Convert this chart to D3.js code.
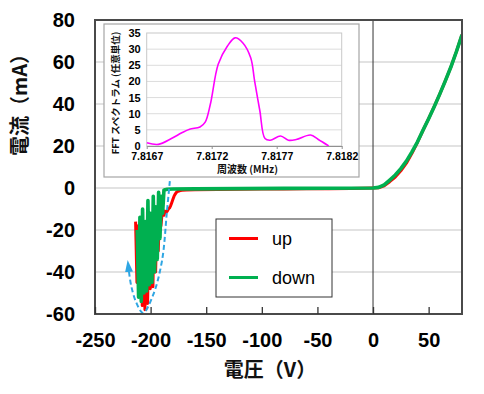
<!DOCTYPE html>
<html><head><meta charset="utf-8">
<script src="https://cdn.jsdelivr.net/npm/d3@7"></script>
<style>
body{margin:0;background:#fff}
svg text{font-family:"Liberation Sans",Arial,sans-serif}
svg .cjk{font-family:"Noto Sans CJK JP","Noto Sans",sans-serif}
</style></head><body><svg id="chart" width="484" height="394"></svg>
<script>
// I-V sweep (mA vs V), up and down, plus FFT inset of the oscillation
const X_TICKS = [-250, -200, -150, -100, -50, 0, 50];
const Y_TICKS = [-60, -40, -20, 0, 20, 40, 60, 80];

const UP = [ // [V, mA]
  [-213.5,-16],[-212.3,-45],[-211.1,-18],[-209.9,-50],[-208.7,-24],[-207.5,-56],[-206.3,-20],
  [-205.1,-58],[-203.9,-26],[-202.7,-55],[-201.5,-15],[-200.3,-48],[-199.1,-20],[-197.9,-47],
  [-196.7,-12],[-195.5,-40],[-194.3,-14],[-193.1,-30],[-191.9,-10],[-190.7,-18],[-189.5,-11],
  [-188,-13],[-187,-11],[-186,-11.5],[-185,-11],[-184,-10],[-183,-9.5],[-182,-8.5],[-181,-7],
  [-180,-5.5],[-179,-4],[-178,-3],[-177,-2.2],[-176,-1.7],[-174,-1.3],[-172,-1.1],[-168,-0.9],
  [-160,-0.8],[-140,-0.7],[-120,-0.6],[-100,-0.5],[-80,-0.5],[-60,-0.4],[-40,-0.3],[-20,-0.2],
  [0,0],[5,0.1],[10,1.0],[15,3.0],[20,5.2],[25,8.2],[30,11.8],[35,16.5],[40,21.8],[45,27.5],
  [50,33],[55,38.7],[60,44.7],[65,51],[70,57.6],[75,65],[80,73]
];
const DOWN = [
  [-212,-20],[-210.8,-52],[-209.6,-14],[-208.4,-54],[-207.2,-10],[-206,-50],[-204.8,-16],
  [-203.6,-49],[-202.4,-6],[-201.2,-46],[-200,-12],[-198.8,-45],[-197.6,-4],[-196.4,-40],
  [-195.2,-9],[-194,-34],[-192.8,-2],[-191.6,-24],[-190.4,-4],[-189.2,-12],[-188,-1],
  [-187,-0.8],[-185,-0.6],[-180,-0.5],[-160,-0.4],[-120,-0.3],[-80,-0.2],[-40,-0.1],[0,0],
  [5,0.3],[10,1.5],[15,3.8],[20,6.2],[25,9.2],[30,12.8],[35,17.2],[40,22],[45,27.6],[50,33],
  [55,38.7],[60,44.7],[65,51],[70,57.6],[75,65],[80,73]
];
// dashed loop around the oscillating region, ends in an arrow
const LOOP = [[-182.7,3.3],[-185.3,-11],[-189.8,-34.8],[-197.8,-51],[-206.8,-59.5],
  [-213.1,-54.3],[-217.6,-46.2],[-219.4,-40]];

const FFT_F = [7.81670,7.81679,7.81689,7.81697,7.81703,7.81711,7.81715,7.81719,7.81725,7.81732,
  7.81738,7.81744,7.81750,7.81753,7.81757,7.81761,7.81765,7.81773,7.81779,7.81785,7.81796,
  7.81802,7.81810];
const FFT_A = [1.0,0.5,2.3,4.1,5.2,5.9,7.4,13,25.3,30.9,33.5,31.9,27.3,20.2,11,2.3,1.8,3.1,1.8,
  2.0,3.4,2.0,0];
const FFT_X_TICKS = [7.8167, 7.8172, 7.8177, 7.8182];
const FFT_Y_TICKS = [0, 5, 10, 15, 20, 25, 30, 35];

const RED = "#ff0000", GREEN = "#00b050", BLUE = "#2ea6e3", MAG = "#ff00ff";
const plain = d => String(d);   // hyphen minus, like the original

const svg = d3.select("#chart");
svg.append("rect").attr("width", 484).attr("height", 394).attr("fill", "#fff");
const defs = svg.append("defs");

const x = d3.scaleLinear([-250, 80], [95, 462]);
const y = d3.scaleLinear([-60, 80], [314, 20]);

// gridlines
svg.append("g").selectAll("line").data(Y_TICKS.slice(1, -1)).join("line")
  .attr("x1", 95).attr("x2", 462).attr("y1", y).attr("y2", y)
  .attr("stroke", "#d9d9d9").attr("stroke-width", 1.5);

// V = 0 line
svg.append("line").attr("x1", x(0)).attr("x2", x(0)).attr("y1", y(80)).attr("y2", y(-60))
  .attr("stroke", "#333").attr("stroke-width", 1);

defs.append("clipPath").attr("id", "plot")
  .append("rect").attr("x", 95).attr("y", 20).attr("width", 367).attr("height", 294);

const line = d3.line().x(d => x(d[0])).y(d => y(d[1]));
const curves = svg.append("g").attr("clip-path", "url(#plot)");
curves.append("path").attr("d", line(UP)).attr("fill", "none").attr("stroke", RED)
  .attr("stroke-width", 3).attr("stroke-linejoin", "round");
curves.append("path").attr("d", line(DOWN)).attr("fill", "none").attr("stroke", GREEN)
  .attr("stroke-width", 3.6).attr("stroke-linejoin", "round");

// annotation loop + arrow
defs.append("marker").attr("id", "arr").attr("viewBox", "0 0 12 8")
  .attr("refX", 0).attr("refY", 4).attr("markerWidth", 6).attr("markerHeight", 4)
  .attr("markerUnits", "strokeWidth").attr("orient", "auto")
  .append("path").attr("d", "M0,0L12,4L0,8Z").attr("fill", BLUE);
svg.append("path").attr("d", d3.line().x(d => x(d[0])).y(d => y(d[1]))
    .curve(d3.curveCatmullRom)(LOOP))
  .attr("fill", "none").attr("stroke", BLUE).attr("stroke-width", 2)
  .attr("stroke-dasharray", "5,3").attr("marker-end", "url(#arr)");

// frame
svg.append("rect").attr("x", 95).attr("y", 20).attr("width", 367).attr("height", 294)
  .attr("fill", "none").attr("stroke", "#4a4a4a").attr("stroke-width", 2);

// axes
const xa = svg.append("g").attr("transform", "translate(0,314)")
  .call(d3.axisBottom(x).tickValues(X_TICKS).tickFormat(plain)
    .tickSizeInner(-7).tickSizeOuter(0).tickPadding(19));
xa.select(".domain").remove();
xa.selectAll("line").attr("stroke", "#333").attr("stroke-width", 1.3);
xa.selectAll("text").attr("font-size", 20).attr("font-weight", "bold").attr("fill", "#000")
  .style("font-family", "'Liberation Sans',Arial,sans-serif");

const ya = svg.append("g").attr("transform", "translate(95,0)")
  .call(d3.axisLeft(y).tickValues(Y_TICKS).tickFormat(plain).tickSize(0).tickPadding(20));
ya.select(".domain").remove();
ya.selectAll("text").attr("font-size", 20).attr("font-weight", "bold").attr("fill", "#000")
  .style("font-family", "'Liberation Sans',Arial,sans-serif");

svg.append("text").attr("class", "cjk").attr("x", 270).attr("y", 368)
  .attr("text-anchor", "middle").attr("dominant-baseline", "central")
  .attr("font-size", 20).attr("font-weight", "bold").attr("fill", "#111").text("電圧（V）");
svg.append("text").attr("class", "cjk").attr("transform", "translate(18,100) rotate(-90)")
  .attr("text-anchor", "middle").attr("dominant-baseline", "central")
  .attr("font-size", 20).attr("font-weight", "bold").attr("fill", "#111").text("電流（mA）");

// legend
const lg = svg.append("g");
lg.append("rect").attr("x", 216).attr("y", 219).attr("width", 116).attr("height", 78)
  .attr("fill", "#fff").attr("stroke", "#333").attr("stroke-width", 1);
[["up", RED, 238.5], ["down", GREEN, 277.5]].forEach(([name, col, ly]) => {
  lg.append("line").attr("x1", 229).attr("x2", 258).attr("y1", ly).attr("y2", ly)
    .attr("stroke", col).attr("stroke-width", 3);
  lg.append("text").attr("x", 272).attr("y", ly).attr("dominant-baseline", "central")
    .attr("font-size", 18).attr("fill", "#000").text(name);
});

// FFT inset
const ins = svg.append("g");
ins.append("rect").attr("x", 104).attr("y", 24).attr("width", 255).attr("height", 153)
  .attr("fill", "#fff").attr("stroke", "#a6a6a6").attr("stroke-width", 1.2);
const fx = d3.scaleLinear([7.8167, 7.8182], [146.7, 341.7]);
const fy = d3.scaleLinear([0, 35], [146, 33]);
ins.append("g").selectAll("line").data(FFT_Y_TICKS.slice(1, -1)).join("line")
  .attr("x1", 146.7).attr("x2", 341.7).attr("y1", fy).attr("y2", fy)
  .attr("stroke", "#dcdcdc").attr("stroke-width", 1);
ins.append("rect").attr("x", 146.7).attr("y", 33).attr("width", 195).attr("height", 113)
  .attr("fill", "none").attr("stroke", "#c8c8c8").attr("stroke-width", 1);
defs.append("clipPath").attr("id", "fftclip")
  .append("rect").attr("x", 146.7).attr("y", 30).attr("width", 195).attr("height", 116);
const fftLine = d3.line().x(d => fx(d[0])).y(d => fy(d[1])).curve(d3.curveCatmullRom);
ins.append("path").attr("clip-path", "url(#fftclip)")
  .attr("d", fftLine(d3.zip(FFT_F, FFT_A))).attr("fill", "none")
  .attr("stroke", MAG).attr("stroke-width", 1.6);

const fxa = ins.append("g").attr("transform", "translate(0,146)")
  .call(d3.axisBottom(fx).tickValues(FFT_X_TICKS).tickFormat(d3.format(".4f"))
    .tickSizeInner(3).tickSizeOuter(0).tickPadding(4));
fxa.select(".domain").attr("stroke", "#909090");
fxa.selectAll("line").attr("stroke", "#909090");
fxa.selectAll("text").attr("font-size", 10.5).attr("font-weight", "bold").attr("fill", "#000")
  .style("font-family", "'Liberation Sans',Arial,sans-serif");
const fya = ins.append("g").attr("transform", "translate(146.7,0)")
  .call(d3.axisLeft(fy).tickValues(FFT_Y_TICKS).tickSize(0).tickPadding(6));
fya.select(".domain").remove();
fya.selectAll("text").attr("font-size", 11).attr("font-weight", "bold").attr("fill", "#000")
  .style("font-family", "'Liberation Sans',Arial,sans-serif");

ins.append("text").attr("class", "cjk").attr("x", 247.5).attr("y", 168.5)
  .attr("text-anchor", "middle").attr("dominant-baseline", "central")
  .attr("font-size", 10).attr("font-weight", "bold").attr("fill", "#111").text("周波数 (MHz)");
ins.append("text").attr("class", "cjk").attr("transform", "translate(115,93) rotate(-90)")
  .attr("text-anchor", "middle").attr("dominant-baseline", "central")
  .attr("font-size", 9.5).attr("font-weight", "bold").attr("fill", "#111")
  .text("FFT スペクトラム (任意単位)");
</script></body></html>
